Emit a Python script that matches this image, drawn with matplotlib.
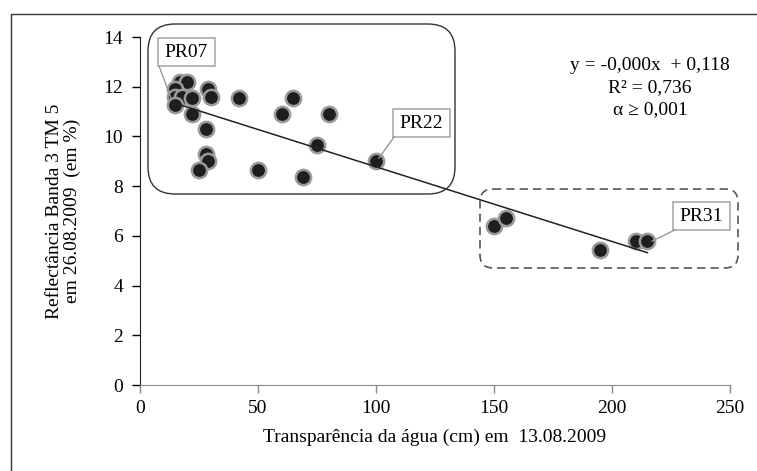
import matplotlib
matplotlib.use("Agg")
import matplotlib.pyplot as plt
from matplotlib.patches import FancyBboxPatch, Rectangle
import numpy as np

# transparencia (cm) x reflectancia banda 3 (%)
transp = [17, 20, 15, 29, 15, 18, 22, 30, 42, 65, 15, 22, 60, 80, 28,
          75, 28, 29, 100, 25, 50, 69, 150, 155, 195, 210, 215]
refl = [12.2, 12.2, 11.9, 11.9, 11.6, 11.6, 11.55, 11.6, 11.55, 11.55, 11.25, 10.9, 10.9, 10.9, 10.3,
        9.65, 9.3, 9.0, 9.0, 8.65, 8.65, 8.35, 6.4, 6.7, 5.45, 5.8, 5.8]
xticks = [0, 50, 100, 150, 200, 250]
yticks = [0, 2, 4, 6, 8, 10, 12, 14]

plt.rcParams["font.family"] = ["Liberation Serif", "DejaVu Serif"]
W, H = 757, 471
fig = plt.figure(figsize=(W / 100, H / 100), dpi=100)
ax = fig.add_axes([140 / W, 1 - 385 / H, 590 / W, 348 / H])
ax.set_facecolor("none")

ax.plot(transp, refl, "o", ms=11, mfc="#1e1e1e", mec="#9a9a9a", mew=1.8, zorder=3)
b, a = np.polyfit(transp, refl, 1)
xl = np.array([min(transp), max(transp)])
ax.plot(xl, a + b * xl, color="#222222", lw=1.1, zorder=4)

ax.set_xlim(0, 250)
ax.set_ylim(0, 14)
ax.set_xticks(xticks)
ax.set_yticks(yticks)
ax.tick_params(labelsize=14, length=6, width=1, direction="out")
ax.tick_params(axis="y", pad=6)
ax.tick_params(axis="x", pad=5, color="#888888")
for s in ["top", "right"]:
    ax.spines[s].set_visible(False)
ax.spines["bottom"].set_color("#888888")
ax.spines["left"].set_color("#222222")
ax.set_xlabel("Transparência da água (cm) em  13.08.2009", fontsize=14, labelpad=8)
ax.set_ylabel("Reflectância Banda 3 TM 5\nem 26.08.2009  (em %)", fontsize=14,
              labelpad=16, linespacing=1.05)

# overlay in pixel coords for frames and labels
ov = fig.add_axes([0, 0, 1, 1], zorder=5)
ov.set_xlim(0, W)
ov.set_ylim(H, 0)
ov.axis("off")
ov.patch.set_alpha(0)

ov.add_patch(Rectangle((11, 14), 800, 500, fill=False, ec="#333333", lw=1))
ov.add_patch(FancyBboxPatch((148, 24), 307, 170, boxstyle="round,pad=0,rounding_size=27",
                            fill=False, ec="#333333", lw=1))
ov.add_patch(FancyBboxPatch((480, 189), 258, 79, boxstyle="round,pad=0,rounding_size=13",
                            fill=False, ec="#555555", lw=1.2, ls=(0, (5, 3))))

def tag(x0, y0, text, lx, ly, px, py):
    ov.plot([lx, px], [ly, py], color="#999999", lw=1)
    ov.add_patch(Rectangle((x0, y0), 57, 28, fc="white", ec="#aaaaaa", lw=1.2))
    ov.text(x0 + 28.5, y0 + 14.5, text, ha="center", va="center", fontsize=14)

tag(158, 38, "PR07", 159, 66, 171, 98)
tag(393, 109, "PR22", 394, 137, 379, 158)
tag(673, 202, "PR31", 675, 230, 652, 241)

ov.text(650, 66, "y = -0,000x  + 0,118", ha="center", va="center", fontsize=14)
ov.text(650, 88, "R² = 0,736", ha="center", va="center", fontsize=14)
ov.text(650, 110, "α ≥ 0,001", ha="center", va="center", fontsize=14)

fig.savefig("out.png", dpi=100)
